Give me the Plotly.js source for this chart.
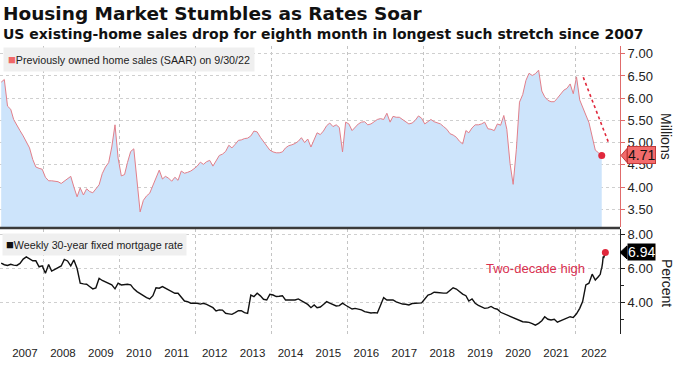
<!DOCTYPE html>
<html><head><meta charset="utf-8">
<script src="https://cdn.plot.ly/plotly-3.0.1.min.js"></script>
<style>html,body{margin:0;padding:0;background:#fff}</style>
</head><body><div id="chart" style="width:675px;height:365px"></div>
<script>
// Previously owned home sales, SAAR, millions — monthly Nov 2006 .. Sep 2022
const homeSales = [
  6.36, 6.42,
  5.82, 5.75, 5.52, 5.38, 5.27, 5.15, 5.02, 4.88, 4.62, 4.45, 4.42, 4.40,
  4.22, 4.14, 4.14, 4.13, 4.12, 4.08, 4.13, 4.18, 4.24, 4.00, 3.78, 3.98,
  3.82, 3.96, 3.90, 3.87, 3.95, 4.05, 4.30, 4.45, 4.55, 4.90, 5.40, 4.65,
  4.25, 4.28, 4.55, 4.80, 4.86, 4.15, 3.44, 3.70, 3.80, 3.86, 4.05, 4.20,
  4.38, 4.18, 4.24, 4.20, 4.13, 4.22, 4.15, 4.36, 4.31, 4.33, 4.36, 4.41,
  4.47, 4.56, 4.51, 4.57, 4.60, 4.47, 4.58, 4.71, 4.74, 4.80, 4.94, 4.88,
  4.96, 5.05, 5.06, 5.09, 5.10, 5.15, 5.26, 5.24, 5.12, 5.03, 4.93, 4.83,
  4.79, 4.77, 4.77, 4.79, 4.88, 4.93, 4.95, 4.98, 5.03, 5.11, 5.00, 5.08,
  4.90, 5.05, 5.22, 5.18, 5.26, 5.38, 5.44, 5.36, 5.40, 5.34, 4.79, 5.46,
  5.42, 5.27, 5.35, 5.42, 5.46, 5.47, 5.40, 5.42, 5.47, 5.52, 5.54, 5.52,
  5.66, 5.46, 5.59, 5.57, 5.57, 5.52, 5.47, 5.42, 5.44, 5.50, 5.60, 5.55,
  5.42, 5.48, 5.52, 5.47, 5.44, 5.42, 5.36, 5.30, 5.20, 5.17, 5.12, 5.03,
  4.97, 5.27, 5.22, 5.33, 5.40, 5.40, 5.42, 5.46, 5.31, 5.30, 5.27, 5.42,
  5.39, 5.61, 5.30, 4.53, 4.06, 4.85, 5.91, 6.08, 6.40, 6.56, 6.51, 6.55,
  6.63, 6.16, 6.03, 5.95, 5.92, 5.92, 6.00, 6.10, 6.18, 6.22, 6.32, 6.10,
  6.48, 5.96, 5.78, 5.62, 5.45, 5.10, 4.83, 4.77, 4.71
];
// 30-year fixed mortgage rate, percent — monthly readings Nov 2006 .. Aug 2022
const rateMonthly = [
  6.31, 6.22,
  6.18, 6.25, 6.20, 6.18, 6.30, 6.55, 6.68, 6.55, 6.45, 6.45, 6.10, 6.16,
  5.72, 6.23, 5.85, 5.95, 6.04, 6.15, 6.53, 6.44, 6.16, 6.50, 6.00, 5.14,
  5.10, 5.08, 4.95, 4.81, 4.87, 5.43, 5.30, 5.20, 5.10, 5.04, 4.81, 5.14,
  5.04, 5.06, 5.08, 5.04, 4.81, 4.65, 4.52, 4.41, 4.30, 4.22, 4.41, 4.87,
  4.85, 4.94, 4.85, 4.75, 4.65, 4.55, 4.55, 4.30, 4.10, 4.06, 3.97, 3.97,
  3.97, 3.92, 3.97, 3.90, 3.80, 3.71, 3.52, 3.58, 3.57, 3.38, 3.35, 3.32,
  3.42, 3.53, 3.53, 3.42, 3.38, 4.45, 4.36, 4.55, 4.40, 4.20, 4.16, 4.49,
  4.45, 4.36, 4.38, 4.41, 4.16, 4.16, 4.15, 4.16, 4.22, 4.10, 4.02, 3.90,
  3.71, 3.87, 3.71, 3.75, 3.90, 4.06, 3.97, 3.91, 3.81, 3.83, 3.97, 3.85,
  3.75, 3.63, 3.67, 3.63, 3.58, 3.48, 3.42, 3.40, 3.42, 3.40, 3.85, 4.30,
  4.16, 4.16, 4.16, 4.05, 3.97, 3.92, 3.91, 3.87, 3.95, 3.95, 3.97, 3.99,
  4.22, 4.45, 4.50, 4.61, 4.60, 4.57, 4.56, 4.56, 4.70, 4.87, 4.80, 4.65,
  4.50, 4.41, 4.10, 4.22, 3.97, 3.85, 3.78, 3.67, 3.70, 3.78, 3.67, 3.62,
  3.44, 3.36, 3.28, 3.22, 3.15, 3.08, 3.00, 2.89, 2.87, 2.85, 2.78, 2.69,
  2.79, 2.95, 3.18, 3.03, 2.99, 3.03, 2.86, 2.93, 3.00, 3.09, 3.18, 3.13,
  3.35, 3.67, 4.07, 5.04, 5.14, 5.67, 5.33, 5.53
];
// weekly readings at the end of the series
const rateRecentDates = ['2022-09-01','2022-09-08','2022-09-15','2022-09-22','2022-09-29','2022-10-06','2022-10-13','2022-10-20'];
const rateRecent = [5.66, 5.89, 6.02, 6.29, 6.70, 6.66, 6.92, 6.94];

const yearLabels = ['2007','2008','2009','2010','2011','2012','2013','2014','2015','2016','2017','2018','2019','2020','2021','2022'];
const gridYears = [2008, 2010, 2012, 2014, 2016, 2018, 2020, 2022];
const salesTicks = [3.5, 4.0, 4.5, 5.0, 5.5, 6.0, 6.5, 7.0];
const rateTicks = [4, 6, 8];
const rateMinorTicks = [3, 5, 7];

const legendTop = 'Previously owned home sales (SAAR) on 9/30/22';
const legendBottom = 'Weekly 30-year fixed mortgage rate';

function monthDates(y, m0, n) {
  const out = [];
  for (let i = 0; i < n; i++) {
    const t = m0 + i;
    const yy = y + Math.floor(t / 12);
    const mm = (t % 12) + 1;
    out.push(yy + '-' + String(mm).padStart(2, '0') + '-15');
  }
  return out;
}
const salesDates = monthDates(2006, 10, homeSales.length);
const rateDates = monthDates(2006, 10, rateMonthly.length).concat(rateRecentDates);
const rateValues = rateMonthly.concat(rateRecent);

const lastSales = homeSales[homeSales.length - 1];
const lastSalesDate = salesDates[salesDates.length - 1];
const lastRate = rateValues[rateValues.length - 1];
const lastRateDate = rateDates[rateDates.length - 1];

const RED = '#e0283c';
const SALES_LINE = '#e27f8a';
const FILL = '#cde4fb';
const TAG_RED = '#f26b6b';

const traces = [
  {x: salesDates, y: homeSales, type: 'scatter', mode: 'lines', fill: 'tozeroy',
   fillcolor: FILL, line: {color: SALES_LINE, width: 1}, xaxis: 'x', yaxis: 'y', hoverinfo: 'skip'},
  {x: [lastSalesDate], y: [lastSales], type: 'scatter', mode: 'markers',
   marker: {color: RED, size: 7}, xaxis: 'x', yaxis: 'y', hoverinfo: 'skip'},
  {x: rateDates, y: rateValues, type: 'scatter', mode: 'lines',
   line: {color: '#111', width: 1.4}, xaxis: 'x2', yaxis: 'y2', hoverinfo: 'skip'},
  {x: [lastRateDate], y: [lastRate], type: 'scatter', mode: 'markers',
   marker: {color: RED, size: 7}, xaxis: 'x2', yaxis: 'y2', hoverinfo: 'skip'}
];

const xRange = ['2006-11-03 14:00', '2023-03-09 21:00'];
const gridDates = gridYears.map(y => y + '-01-01');
const midYears = yearLabels.map(y => y + '-07-02');
const FONT = 'Liberation Sans, Arial, sans-serif';

const commonX = {
  type: 'date', range: xRange, showgrid: false, zeroline: false, showline: false, ticks: '',
  minor: {tickvals: gridDates, showgrid: true, griddash: 'dot', gridcolor: '#c4c4c4', gridwidth: 1, ticks: ''}
};

const H = 288, B = 334; // plot height, bottom pixel
const py = p => (B - p) / H;

const layout = {
  width: 675, height: 365,
  margin: {l: 0, r: 55, t: 46, b: 31, pad: 0},
  paper_bgcolor: '#fff', plot_bgcolor: '#fff',
  showlegend: false, hovermode: false,
  font: {family: FONT, color: '#222', size: 12},
  xaxis: Object.assign({}, commonX, {anchor: 'y', showticklabels: false}),
  xaxis2: Object.assign({}, commonX, {anchor: 'y2', tickmode: 'array', tickvals: midYears, ticktext: yearLabels,
    tickfont: {size: 11.5, color: '#222'}, ticklabelstandoff: 10}),
  yaxis: {
    domain: [py(227), 1], range: [3.10, 7.174], side: 'right', anchor: 'x',
    tickmode: 'array', tickvals: salesTicks, ticktext: salesTicks.map(v => v.toFixed(2)),
    ticks: 'outside', ticklen: 4, tickcolor: '#e06b6b', tickwidth: 1,
    showline: true, linecolor: '#e06b6b', linewidth: 1,
    showgrid: true, gridcolor: '#cfcfcf', griddash: 'dot', zeroline: false,
    tickfont: {size: 13, color: '#222'}
  },
  yaxis2: {
    domain: [0, py(229)], range: [2.17, 8.31], side: 'right', anchor: 'x2',
    tickmode: 'array', tickvals: rateTicks, ticktext: rateTicks.map(v => v.toFixed(2)),
    ticks: 'outside', ticklen: 4, tickcolor: '#222', tickwidth: 1,
    showline: true, linecolor: '#222', linewidth: 1,
    showgrid: true, gridcolor: '#cfcfcf', griddash: 'dot', zeroline: false,
    minor: {tickvals: rateMinorTicks, ticks: 'outside', ticklen: 3, tickcolor: '#222', showgrid: false},
    tickfont: {size: 13, color: '#222'}
  },
  shapes: [
    {type: 'line', xref: 'paper', yref: 'paper', x0: 0, x1: 1, y0: py(228), y1: py(228),
     line: {color: '#3a3a3a', width: 2.5}},
    // dotted trend arrow shaft
    {type: 'line', xref: 'paper', yref: 'paper', x0: 583.3 / 620, y0: py(77.3), x1: 608.5 / 620, y1: py(142.5),
     line: {color: RED, width: 1.6, dash: 'dot'}},
    // tag pointers
    {type: 'path', xref: 'paper', xsizemode: 'pixel', xanchor: 1, yref: 'y', ysizemode: 'pixel', yanchor: lastSales,
     path: 'M 1 0 L 7 7 L 7 -7 Z', fillcolor: TAG_RED, line: {color: '#c23a3a', width: 1}},
    {type: 'path', xref: 'paper', xsizemode: 'pixel', xanchor: 1, yref: 'y2', ysizemode: 'pixel', yanchor: lastRate,
     path: 'M 0 0 L 7 6.5 L 7 -6.5 Z', fillcolor: '#000', line: {color: '#000', width: 1}}
  ],
  annotations: [
    {xref: 'paper', yref: 'paper', x: 0, y: py(14), xanchor: 'left', yanchor: 'middle', xshift: 1, showarrow: false,
     text: '<b>Housing Market Stumbles as Rates Soar</b>', font: {family: 'DejaVu Sans', size: 18.5, color: '#111'}},
    {xref: 'paper', yref: 'paper', x: 0, y: py(34), xanchor: 'left', yanchor: 'middle', xshift: 1, showarrow: false,
     text: '<b>US existing-home sales drop for eighth month in longest such stretch since 2007</b>',
     font: {family: 'DejaVu Sans', size: 14, color: '#111'}},
    {xref: 'paper', yref: 'paper', x: 0, y: 1, xanchor: 'left', yanchor: 'top', xshift: 3, yshift: -1, showarrow: false,
     text: '<span style="color:#f06868;font-size:13px">■</span>' + legendTop, bgcolor: '#efefef', borderpad: 4,
     font: {family: FONT, size: 10.7, color: '#222'}},
    {xref: 'paper', yref: 'paper', x: 0, y: py(229), xanchor: 'left', yanchor: 'top', xshift: 2, yshift: -4, showarrow: false,
     text: '<span style="color:#111;font-size:13px">■</span>' + legendBottom, bgcolor: '#efefef', borderpad: 3,
     font: {family: FONT, size: 10.7, color: '#222'}},
    {xref: 'paper', yref: 'paper', x: 666 / 620, y: py(136), xanchor: 'center', yanchor: 'middle', textangle: 90, showarrow: false,
     text: 'Millions', font: {family: FONT, size: 14, color: '#222'}},
    {xref: 'paper', yref: 'paper', x: 667 / 620, y: py(283), xanchor: 'center', yanchor: 'middle', textangle: 90, showarrow: false,
     text: 'Percent', font: {family: FONT, size: 14, color: '#222'}},
    {xref: 'paper', yref: 'y', x: 1, y: lastSales, xanchor: 'left', yanchor: 'middle', xshift: 7, showarrow: false,
     text: lastSales.toFixed(2), bgcolor: TAG_RED, bordercolor: '#c23a3a', borderwidth: 1, borderpad: 0,
     font: {family: FONT, size: 14, color: '#111'}},
    {xref: 'paper', yref: 'y2', x: 1, y: lastRate, xanchor: 'left', yanchor: 'middle', xshift: 7, showarrow: false,
     text: lastRate.toFixed(2), bgcolor: '#000', borderpad: 0,
     font: {family: FONT, size: 14, color: '#fff'}},
    {xref: 'paper', yref: 'paper', x: 535 / 620, y: py(268), xanchor: 'center', yanchor: 'middle', showarrow: false,
     text: 'Two-decade high', font: {family: FONT, size: 13, color: '#d9304f'}},
    // arrow head of the dotted trend arrow
    {xref: 'paper', yref: 'paper', x: 610 / 620, y: py(146.7), ax: -2.3, ay: -6, axref: 'pixel', ayref: 'pixel',
     showarrow: true, arrowhead: 5, arrowsize: 2, arrowwidth: 1.2, arrowcolor: RED, text: ' ', standoff: 0}
  ]
};

Plotly.newPlot('chart', traces, layout, {staticPlot: true, displayModeBar: false});
</script></body></html>
